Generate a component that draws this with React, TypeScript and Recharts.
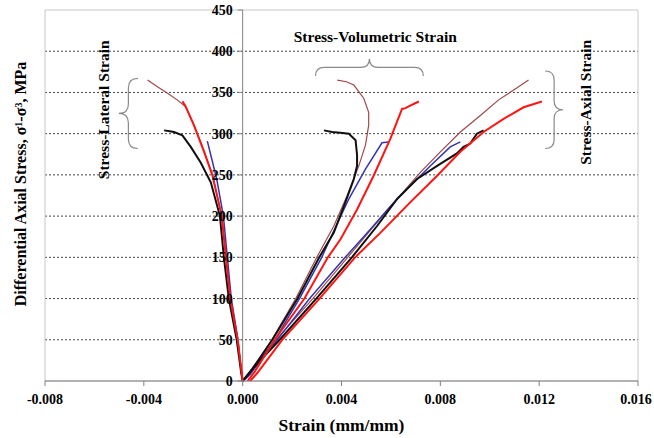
import {
  CartesianGrid,
  Line,
  LineChart,
  ReferenceArea,
  ReferenceDot,
  ReferenceLine,
  XAxis,
  YAxis,
} from 'recharts';

// strain (mm/mm), differential stress (MPa)
const blackLateral = [
  [0, 0], [-0.00006, 10], [-0.00024, 50], [-0.00056, 100], [-0.00076, 150], [-0.00092, 200],
  [-0.00129, 241], [-0.0017, 265], [-0.0021, 284], [-0.00244, 298], [-0.00278, 302], [-0.00295, 303], [-0.00318, 304],
];
const blueLateral = [
  [0, 0], [-0.00005, 10], [-0.00019, 50], [-0.00046, 100], [-0.00062, 150], [-0.00078, 200], [-0.00105, 245], [-0.00143, 291],
];
const redLateral = [
  [0, 0], [-0.00004, 10], [-0.0002, 50], [-0.0005, 100], [-0.00068, 150], [-0.00085, 200], [-0.00122, 249],
  [-0.00156, 278], [-0.00197, 310], [-0.00232, 334], [-0.00244, 339], [-0.00238, 337],
];
const brownLateral = [
  [0, 0], [-0.00004, 10], [-0.0002, 50], [-0.00049, 100], [-0.00067, 150], [-0.00084, 200], [-0.00121, 249],
  [-0.00155, 278], [-0.00196, 310], [-0.00232, 333], [-0.00265, 341], [-0.00304, 349], [-0.00345, 357], [-0.00385, 365],
];

const blackVolumetric = [
  [0, 0], [0.0004, 15], [0.0012, 50], [0.00222, 100], [0.0031, 150], [0.00369, 180], [0.00416, 217], [0.0045, 245],
  [0.00463, 261], [0.00463, 274], [0.00457, 292], [0.0043, 300], [0.00395, 301], [0.00362, 302], [0.00329, 304],
];
const blueVolumetric = [
  [0, 0], [0.0003, 8], [0.0007, 25], [0.0013, 50], [0.0023, 100], [0.0032, 150], [0.00372, 184], [0.0043, 221],
  [0.00497, 257], [0.00564, 289], [0.0059, 290],
];
const redVolumetric = [
  [0.0002, 0], [0.0005, 12], [0.0013, 50], [0.0025, 100], [0.00345, 150], [0.00396, 172], [0.00463, 208],
  [0.0053, 249], [0.00598, 294], [0.00645, 330], [0.00659, 331], [0.00672, 333], [0.00713, 339],
];
const brownVolumetric = [
  [0, 0], [0.0004, 15], [0.00118, 50], [0.00215, 100], [0.003, 150], [0.00369, 188], [0.00423, 225], [0.0047, 261],
  [0.00497, 286], [0.0051, 310], [0.0051, 326], [0.0049, 343], [0.0045, 359], [0.0042, 363], [0.00383, 365],
];

const blackAxial = [
  [0, 0], [0.0005, 18], [0.0015, 50], [0.00298, 100], [0.00442, 150], [0.00544, 188], [0.00625, 221], [0.00706, 245],
  [0.00787, 261], [0.00867, 276], [0.00894, 284], [0.00921, 288], [0.00948, 300], [0.00975, 304],
];
const blueAxial = [
  [0, 0], [0.0002, 5], [0.0006, 20], [0.0014, 50], [0.00271, 100], [0.00415, 150], [0.00517, 184], [0.00598, 212],
  [0.00679, 237], [0.0076, 261], [0.0084, 284], [0.00881, 290],
];
const redAxial = [
  [0.0003, 0], [0.0006, 10], [0.0016, 50], [0.00311, 100], [0.00455, 150], [0.00558, 180], [0.00679, 217],
  [0.00787, 249], [0.00881, 278], [0.00975, 302], [0.01056, 318], [0.01137, 332], [0.01211, 339],
];
const brownAxial = [
  [0, 0], [0.0005, 20], [0.00135, 50], [0.00284, 100], [0.00425, 150], [0.0052, 184], [0.006, 212], [0.00719, 253],
  [0.008, 278], [0.00881, 302], [0.00962, 322], [0.01036, 341], [0.01097, 353], [0.01157, 365],
];

const xTicks = [-0.008, -0.004, 0, 0.004, 0.008, 0.012, 0.016];
const yTicks = [0, 50, 100, 150, 200, 250, 300, 350, 400, 450];
const gridValues = [50, 100, 150, 200, 250, 300, 350, 400];

// annotation anchors in data units
const labelLateral = { x: -0.00562, y: 329, text: 'Stress-Lateral Strain' };
const labelVolumetric = { x: 0.00537, y: 418, text: 'Stress-Volumetric Strain' };
const labelAxial = { x: 0.01386, y: 338, text: 'Stress-Axial Strain' };
const braceLateral = { x1: -0.00501, x2: -0.00424, y1: 282, y2: 367 };
const braceVolumetric = { x1: 0.00295, x2: 0.00731, y1: 370, y2: 391 };
const braceAxial = { x1: 0.01224, x2: 0.01297, y1: 282, y2: 376 };

const W = 654;
const H = 438;
const Y_AXIS_W = 45;
const M = { top: 10, right: 16, bottom: 0, left: 0 };
const X_MIN = -0.008;
const X_MAX = 0.016;
const ZERO_X = Y_AXIS_W + ((0 - X_MIN) / (X_MAX - X_MIN)) * (W - Y_AXIS_W - M.right);

const FONT = 'Liberation Serif, Times New Roman, DejaVu Serif, serif';
const textStyle = { fontFamily: FONT, fontWeight: 700 };
const toPts = (arr: number[][]) => arr.map(([x, y]) => ({ x, y }));

const series = [
  { name: 'brownLat', data: brownLateral, color: '#a04848', w: 1.2 },
  { name: 'brownVol', data: brownVolumetric, color: '#a04848', w: 1.2 },
  { name: 'brownAx', data: brownAxial, color: '#a04848', w: 1.2 },
  { name: 'blueLat', data: blueLateral, color: '#3535b0', w: 1.5 },
  { name: 'blueVol', data: blueVolumetric, color: '#3535b0', w: 1.5 },
  { name: 'blueAx', data: blueAxial, color: '#3535b0', w: 1.5 },
  { name: 'blackLat', data: blackLateral, color: '#111111', w: 2 },
  { name: 'blackVol', data: blackVolumetric, color: '#111111', w: 2 },
  { name: 'blackAx', data: blackAxial, color: '#111111', w: 2 },
  { name: 'redLat', data: redLateral, color: '#ff1414', w: 2 },
  { name: 'redVol', data: redVolumetric, color: '#ff1414', w: 2 },
  { name: 'redAx', data: redAxial, color: '#ff1414', w: 2 },
];

const YTick = (props: any) => {
  const { y, payload } = props;
  return (
    <g>
      <line x1={ZERO_X - 5} x2={ZERO_X} y1={y} y2={y} stroke="#808080" />
      <text x={ZERO_X - 10} y={y} dy={5} textAnchor="end" fontSize={14} fill="#000" style={textStyle}>
        {payload.value}
      </text>
    </g>
  );
};

const XTick = (props: any) => {
  const { x, y, payload } = props;
  return (
    <text x={x} y={y} dy={12} textAnchor="middle" fontSize={14} fill="#000" style={textStyle}>
      {Number(payload.value).toFixed(3)}
    </text>
  );
};

const braceShape = (dir: 'left' | 'right' | 'up') => (p: any) => {
  const { x, y, width: w, height: h } = p;
  let d = '';
  if (dir === 'up') {
    const xm = x + w / 2;
    const ym = y + h / 2;
    const c = h / 2;
    d = `M${x},${y + h} Q${x},${ym} ${x + c},${ym} L${xm - c},${ym} Q${xm},${ym} ${xm},${y} Q${xm},${ym} ${xm + c},${ym} L${x + w - c},${ym} Q${x + w},${ym} ${x + w},${y + h}`;
  } else {
    const ym = y + h / 2;
    const c = w / 2;
    const xe = dir === 'left' ? x + w : x;
    const xp = dir === 'left' ? x : x + w;
    const xc = x + w / 2;
    d = `M${xe},${y} Q${xc},${y} ${xc},${y + c} L${xc},${ym - c} Q${xc},${ym} ${xp},${ym} Q${xc},${ym} ${xc},${ym + c} L${xc},${y + h - c} Q${xc},${y + h} ${xe},${y + h}`;
  }
  return <path d={d} fill="none" stroke="#8a8a8a" strokeWidth={1.2} />;
};

const noteShape = (text: string, rotate: boolean) => (p: any) => {
  const { cx, cy } = p;
  return (
    <text
      x={cx}
      y={cy}
      textAnchor="middle"
      dominantBaseline="central"
      transform={rotate ? `rotate(-90 ${cx} ${cy})` : undefined}
      fontSize={15.5}
      fill="#000"
      style={textStyle}
    >
      {text}
    </text>
  );
};

const YLabel = () => (
  <text x={26} y={184} textAnchor="middle" transform="rotate(-90 26 184)" fontSize={16} fill="#000" style={textStyle}>
    Differential Axial Stress, σ
    <tspan fontSize={10} dy={-4}>1</tspan>
    <tspan dy={4}>-σ</tspan>
    <tspan fontSize={10} dy={-4}>3</tspan>
    <tspan dy={4}>, MPa</tspan>
  </text>
);

const XLabel = (p: any) => (
  <text x={p.viewBox.x + p.viewBox.width / 2} y={431} textAnchor="middle" fontSize={17.5} fill="#000" style={textStyle}>
    Strain (mm/mm)
  </text>
);

export default function App() {
  return (
    <div style={{ position: 'absolute', left: 0, top: 0, background: '#fff' }}>
      <LineChart width={W} height={H} margin={M}>
        <CartesianGrid horizontal vertical={false} horizontalValues={gridValues} stroke="#444" strokeDasharray="2 2" />
        <ReferenceArea x1={X_MIN} x2={X_MAX} y1={0} y2={450} fill="none" stroke="#c8c8c8" strokeWidth={1} />
        <XAxis
          type="number"
          dataKey="x"
          domain={[X_MIN, X_MAX]}
          ticks={xTicks}
          allowDataOverflow
          axisLine={{ stroke: '#808080' }}
          tickLine={{ stroke: '#808080' }}
          tickSize={5}
          tickMargin={6}
          tick={<XTick />}
          height={57}
          label={{ content: XLabel }}
        />
        <YAxis
          type="number"
          domain={[0, 450]}
          ticks={yTicks}
          width={Y_AXIS_W}
          axisLine={false}
          tickLine={false}
          tick={<YTick />}
          label={{ content: YLabel }}
        />
        <ReferenceLine x={0} stroke="#808080" />
        {series.map((s) => (
          <Line
            key={s.name}
            data={toPts(s.data)}
            dataKey="y"
            type="linear"
            stroke={s.color}
            strokeWidth={s.w}
            dot={false}
            activeDot={false}
            isAnimationActive={false}
          />
        ))}
        <ReferenceArea {...braceLateral} shape={braceShape('left')} />
        <ReferenceArea {...braceVolumetric} shape={braceShape('up')} />
        <ReferenceArea {...braceAxial} shape={braceShape('right')} />
        <ReferenceDot x={labelLateral.x} y={labelLateral.y} shape={noteShape(labelLateral.text, true)} />
        <ReferenceDot x={labelVolumetric.x} y={labelVolumetric.y} shape={noteShape(labelVolumetric.text, false)} />
        <ReferenceDot x={labelAxial.x} y={labelAxial.y} shape={noteShape(labelAxial.text, true)} />
      </LineChart>
    </div>
  );
}
